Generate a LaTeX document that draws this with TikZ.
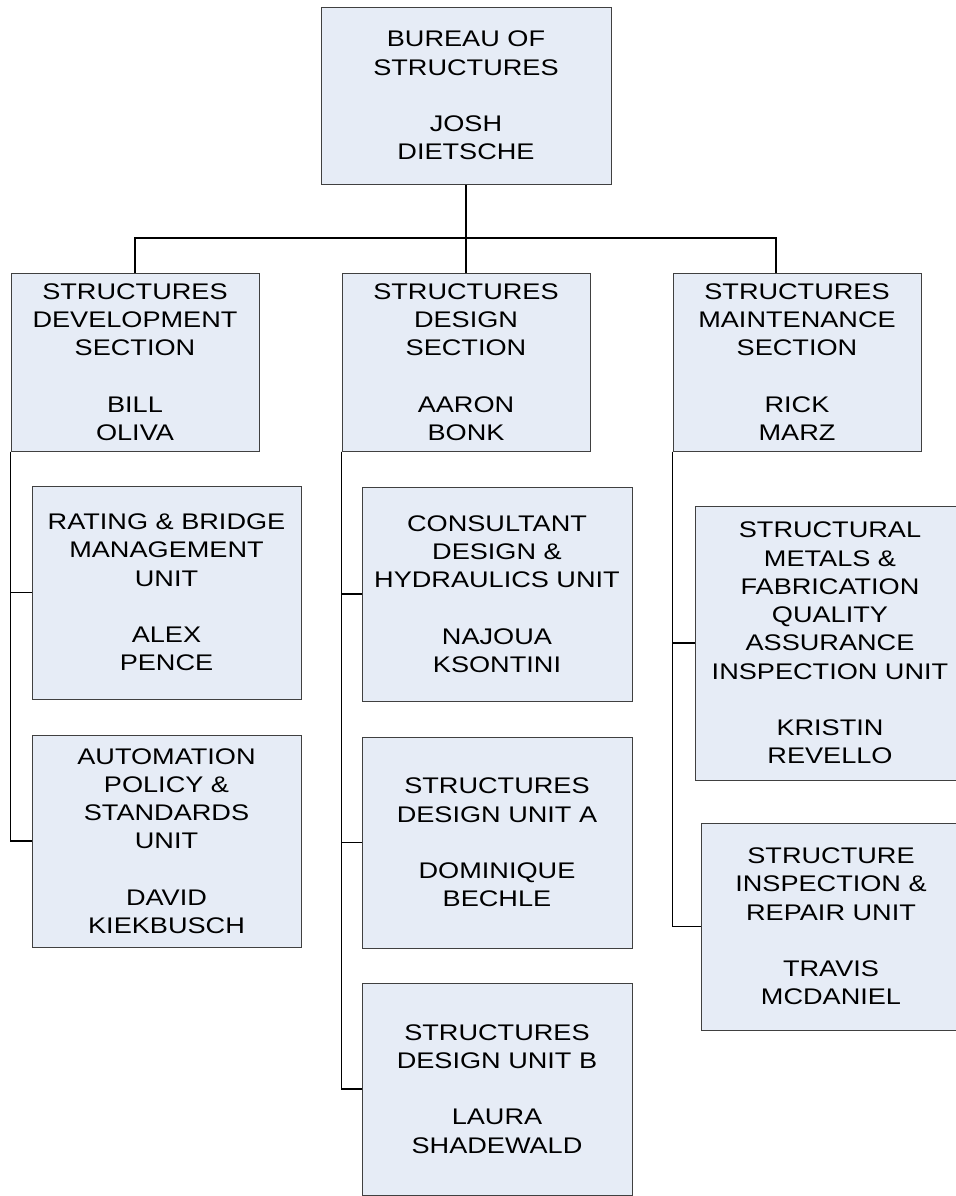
\documentclass[tikz,border=0pt]{standalone}
\usepackage{fontspec}
\setmainfont{Liberation Sans}[FakeStretch=1.2]
\usepackage{xcolor}
\usepackage{tikz}

\definecolor{boxfill}{RGB}{230,236,246}
\definecolor{boxline}{RGB}{64,64,64}

\tikzset{
	orgbox/.style={draw=boxline, fill=boxfill, line width=0.5pt, inner sep=0pt, align=center, font=\fontsize{11.3}{14.15}\selectfont},
	secbox/.style={orgbox, minimum width=124pt, minimum height=89pt},
	wire/.style={line width=0.65pt}
}

\begin{document}
\begin{tikzpicture}[x=0.5pt,y=-0.5pt]

\useasboundingbox (0,0) rectangle (956,1196);
\clip (0,0) rectangle (956,1196);

% bureau
\node[orgbox, minimum width=145pt, minimum height=88.5pt] (bureau) at (466,95.5) {BUREAU OF\\STRUCTURES\\[14pt]JOSH\\DIETSCHE};

% sections
\node[secbox] (devsec) at (135,362) {STRUCTURES\\DEVELOPMENT\\SECTION\\[14pt]BILL\\OLIVA};
\node[secbox] (dessec) at (466,362) {STRUCTURES\\DESIGN\\SECTION\\[14pt]AARON\\BONK};
\node[secbox] (mntsec) at (797,362) {STRUCTURES\\MAINTENANCE\\SECTION\\[14pt]RICK\\MARZ};

% units
\node[orgbox, minimum width=134.5pt, minimum height=106.5pt] (rating) at (166.5,592.5) {RATING \& BRIDGE\\MANAGEMENT\\UNIT\\[14pt]ALEX\\PENCE};
\node[orgbox, minimum width=134.5pt, minimum height=106pt] (autom) at (166.5,841) {AUTOMATION\\POLICY \&\\STANDARDS\\UNIT\\[14pt]DAVID\\KIEKBUSCH};

\node[orgbox, minimum width=135pt, minimum height=107pt] (consult) at (497,594) {CONSULTANT\\DESIGN \&\\HYDRAULICS UNIT\\[14pt]NAJOUA\\KSONTINI};
\node[orgbox, minimum width=135pt, minimum height=105.5pt] (unita) at (497,842.5) {STRUCTURES\\DESIGN UNIT A\\[14pt]DOMINIQUE\\BECHLE};
\node[orgbox, minimum width=135pt, minimum height=106pt] (unitb) at (497,1089) {STRUCTURES\\DESIGN UNIT B\\[14pt]LAURA\\SHADEWALD};

\node[orgbox, minimum width=135pt, minimum height=137pt] (metals) at (830,643) {STRUCTURAL\\METALS \&\\FABRICATION\\QUALITY\\ASSURANCE\\INSPECTION UNIT\\[14pt]KRISTIN\\REVELLO};
\node[orgbox, minimum width=130pt, minimum height=103.5pt] (inspect) at (831,926.5) {STRUCTURE\\INSPECTION \&\\REPAIR UNIT\\[14pt]TRAVIS\\MCDANIEL};

% links
\coordinate (busr) at (776,238);
\draw[wire] (bureau.south) -- (dessec.north);
\draw[wire] (devsec.north) |- (busr) -- (busr |- mntsec.north);

\draw[wire] (devsec.south west) |- (rating.west);
\draw[wire] (devsec.south west) |- (autom.west);

\draw[wire] (dessec.south west) |- (consult.west);
\draw[wire] (dessec.south west) |- (unita.west);
\draw[wire] (dessec.south west) |- (unitb.west);

\draw[wire] (mntsec.south west) |- (metals.west);
\draw[wire] (mntsec.south west) |- (inspect.west);

\end{tikzpicture}
\end{document}
